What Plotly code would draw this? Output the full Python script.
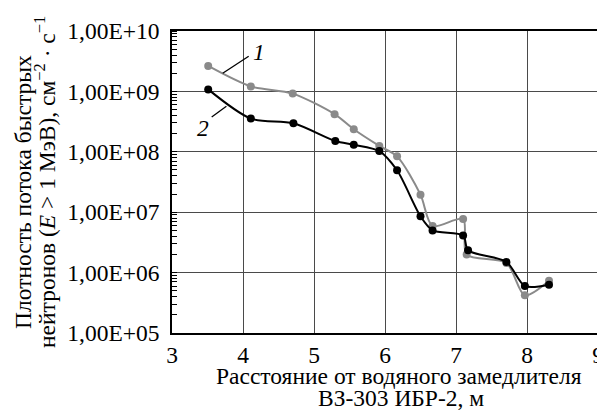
import plotly.graph_objects as go

# Data
x_series1 = [3.51, 4.11, 4.70, 5.29, 5.56, 5.92, 6.17, 6.50, 6.67, 7.10, 7.15, 7.71, 7.97, 8.31]
y_series1 = [2.64e9, 1.21e9, 9.2e8, 4.2e8, 2.36e8, 1.25e8, 8.4e7, 1.95e7, 5.9e6, 7.7e6, 1.99e6, 1.44e6, 4.2e5, 7.3e5]

x_series2 = [3.51, 4.11, 4.71, 5.30, 5.56, 5.92, 6.17, 6.50, 6.67, 7.10, 7.17, 7.71, 7.97, 8.31]
y_series2 = [1.08e9, 3.55e8, 2.97e8, 1.51e8, 1.31e8, 1.03e8, 4.94e7, 8.55e6, 5.0e6, 4.1e6, 2.34e6, 1.50e6, 6.0e5, 6.3e5]

y_tickvals = [1e5, 1e6, 1e7, 1e8, 1e9, 1e10]
y_ticktext = ["1,00E+05", "1,00E+06", "1,00E+07", "1,00E+08", "1,00E+09", "1,00E+10"]
x_tickvals = [3, 4, 5, 6, 7, 8, 9]

series_labels = ["1", "2"]

FONT = "Liberation Serif, Times New Roman, serif"
FS = 23.5
GRAY = "#8a8a8a"

# the page body has an 8px margin; the figure is sized to fit the window
OFF = 8
FIG_W, FIG_H = 605 - OFF, 417 - OFF

# plot-area geometry in window pixels
L, R, T, B = 172.3, 598.3, 30.7, 332.7
W, H = R - L, B - T


def px_x(px):
    return (px - L) / W


def px_y(py):
    return (B - py) / H


fig = go.Figure()
fig.add_trace(go.Scatter(
    x=x_series1, y=y_series1, mode="lines+markers",
    line=dict(color=GRAY, width=2, shape="spline", smoothing=0.8),
    marker=dict(color=GRAY, size=8), showlegend=False))
fig.add_trace(go.Scatter(
    x=x_series2, y=y_series2, mode="lines+markers",
    line=dict(color="black", width=2, shape="spline", smoothing=0.8),
    marker=dict(color="black", size=8), showlegend=False))

# leader lines for the curve labels
fig.add_shape(type="line", xref="paper", yref="paper",
              x0=px_x(223), y0=px_y(73), x1=px_x(249), y1=px_y(56),
              line=dict(color="black", width=1.3))
fig.add_shape(type="line", xref="paper", yref="paper",
              x0=px_x(212), y0=px_y(116.7), x1=px_x(226.7), y1=px_y(106),
              line=dict(color="black", width=1.3))
fig.add_annotation(x=px_x(259), y=px_y(52), xref="paper", yref="paper",
                   text="<i>" + series_labels[0] + "</i>", xanchor="center", yanchor="middle",
                   showarrow=False, font=dict(family=FONT, size=FS, color="black"))
fig.add_annotation(x=px_x(203), y=px_y(128), xref="paper", yref="paper",
                   text="<i>" + series_labels[1] + "</i>", xanchor="center", yanchor="middle",
                   showarrow=False, font=dict(family=FONT, size=FS, color="black"))

# axis titles, one annotation per line
fig.add_annotation(x=px_x(399), y=px_y(376), xref="paper", yref="paper",
                   text="Расстояние от водяного замедлителя", showarrow=False,
                   xanchor="center", yanchor="middle", font=dict(family=FONT, size=FS, color="black"))
fig.add_annotation(x=px_x(401), y=px_y(398), xref="paper", yref="paper",
                   text="ВЗ-303 ИБР-2, м", showarrow=False,
                   xanchor="center", yanchor="middle", font=dict(family=FONT, size=FS, color="black"))
fig.add_annotation(x=px_x(24), y=px_y(192), xref="paper", yref="paper",
                   text="Плотность потока быстрых", showarrow=False, textangle=-90,
                   xanchor="center", yanchor="middle", font=dict(family=FONT, size=FS, color="black"))
fig.add_annotation(x=px_x(46), y=px_y(182), xref="paper", yref="paper",
                   text="нейтронов (<i>E</i> &gt; 1 МэВ), см<sup>−2</sup> · с<sup>−1</sup>",
                   showarrow=False, textangle=-90,
                   xanchor="center", yanchor="middle", font=dict(family=FONT, size=FS, color="black"))

fig.update_layout(
    width=FIG_W, height=FIG_H,
    margin=dict(l=L - OFF, r=605 - R, t=T - OFF, b=417 - B, autoexpand=False),
    paper_bgcolor="white", plot_bgcolor="white",
    font=dict(family=FONT, size=FS, color="black"),
)
fig.update_xaxes(
    range=[3, 9], tickvals=x_tickvals, showgrid=True, gridcolor="#4a4a4a", gridwidth=1.2,
    showline=True, linecolor="black", linewidth=1.5, mirror=True, ticks="", zeroline=False,
    ticklabelstandoff=0, automargin=False,
    tickfont=dict(family=FONT, size=FS, color="black"))
fig.update_yaxes(
    type="log", range=[5, 10], tickvals=y_tickvals, ticktext=y_ticktext,
    showgrid=True, gridcolor="#4a4a4a", gridwidth=1.2,
    showline=True, linecolor="black", linewidth=1.5, mirror=True, ticks="", zeroline=False,
    ticklabelstandoff=6, automargin=False,
    minor=dict(ticks="inside", ticklen=5, tickcolor="black", tickwidth=1, dtick="D1", showgrid=False),
    tickfont=dict(family=FONT, size=FS, color="black"))

fig.write_html("out.html")
